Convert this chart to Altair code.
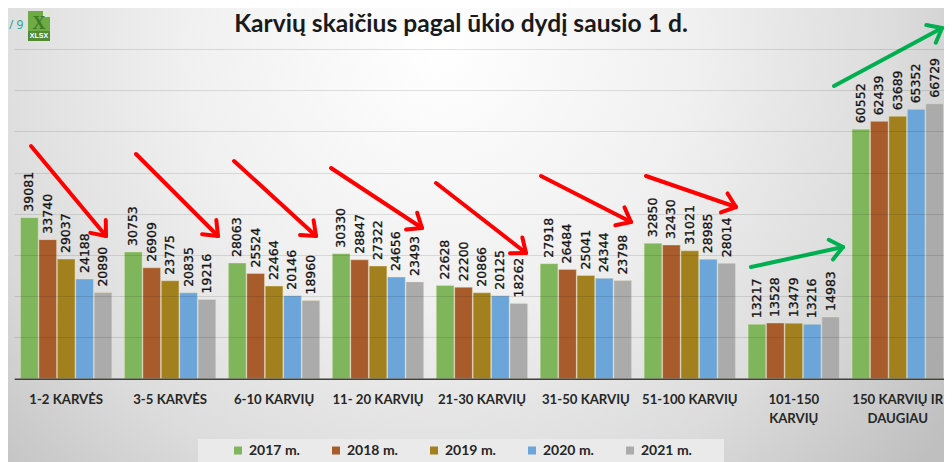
import math
import altair as alt
import pandas as pd

categories = ["1-2 KARVĖS", "3-5 KARVĖS", "6-10 KARVIŲ", "11- 20 KARVIŲ", "21-30 KARVIŲ",
              "31-50 KARVIŲ", "51-100 KARVIŲ", "101-150 KARVIŲ", "150 KARVIŲ IR DAUGIAU"]
years = ["2017 m.", "2018 m.", "2019 m.", "2020 m.", "2021 m."]
v2017 = [39081, 30753, 28063, 30330, 22628, 27918, 32850, 13217, 60552]
v2018 = [33740, 26909, 25524, 28847, 22200, 26484, 32430, 13528, 62439]
v2019 = [29037, 23775, 22464, 27322, 20866, 25041, 31021, 13479, 63689]
v2020 = [24188, 20835, 20146, 24656, 20125, 24344, 28985, 13216, 65352]
v2021 = [20890, 19216, 18960, 23493, 18262, 23798, 28014, 14983, 66729]
colors = ["#7FB55B", "#A95C2B", "#A2801E", "#6CA5D9", "#ABABAB"]
title = "Karvių skaičius pagal ūkio dydį sausio 1 d."

rows = []
for year, series in zip(years, [v2017, v2018, v2019, v2020, v2021]):
    for cat, val in zip(categories, series):
        rows.append({"cat": cat, "year": year, "val": val})
df = pd.DataFrame(rows)

W, H = 936, 454
OX, OY = 8, 8  # page margin, to convert reference pixels
BASE = 378.7 - OY
PLOT_H = BASE


def px(v):
    return alt.value(v - OX)


def py(v):
    return alt.value(v - OY)


bg = alt.Chart(pd.DataFrame({"a": [0]})).mark_rect(
    color=alt.RadialGradient(
        gradient="radial", x1=0.46, y1=0.3, r1=0.0, x2=0.46, y2=0.3, r2=0.68,
        stops=[alt.GradientStop(color="#ffffff", offset=0.0),
               alt.GradientStop(color="#f0f0f0", offset=0.4),
               alt.GradientStop(color="#dcdcdc", offset=0.72),
               alt.GradientStop(color="#bfbfbf", offset=1.0)])
).encode(x=alt.value(0), x2=alt.value(W), y=alt.value(0), y2=alt.value(H))

band = alt.Chart(pd.DataFrame({"a": [0]})).mark_rect(color="#eaeaea").encode(
    x=px(198), x2=px(724), y=py(439), y2=alt.value(H))

label_expr = ("datum.value == '101-150 KARVIŲ' ? ['101-150', 'KARVIŲ'] : "
              "datum.value == '150 KARVIŲ IR DAUGIAU' ? ['150 KARVIŲ IR', 'DAUGIAU'] : datum.value")

x_enc = alt.X("cat:N", sort=categories, title=None,
              scale=alt.Scale(domain=categories, range=[6.2, 941.7], round=False,
                              paddingInner=0.121, paddingOuter=0.0605),
              axis=alt.Axis(labelExpr=label_expr, labelAngle=0, labelFont="Lato", labelFontWeight="bold",
                            labelFontSize=13.2, labelColor="#262626", labelLimit=0, labelPadding=20.5,
                            labelLineHeight=19, ticks=False, domainColor="#404040", domainWidth=1.6,
                            zindex=1, labelBaseline="middle"))
y_enc = alt.Y("val:Q", title=None,
              scale=alt.Scale(domain=[0, 80000], range=[BASE, 49 - OY], nice=False),
              axis=alt.Axis(values=list(range(10000, 80001, 10000)), labels=False, ticks=False, domain=False,
                            grid=True, gridColor="#000000", gridOpacity=0.11, gridWidth=1.2, zindex=1))
off = alt.XOffset("year:N", sort=years, scale=alt.Scale(paddingInner=0.04))

bars = alt.Chart(df).mark_bar(stroke="#eee8c8", strokeWidth=0.4).encode(
    x=x_enc, y=y_enc, xOffset=off,
    color=alt.Color("year:N", sort=years, scale=alt.Scale(domain=years, range=colors),
                    legend=alt.Legend(title=None, orient="none", legendX=231 - OX, legendY=443.5 - OY,
                                      direction="horizontal", columns=5, symbolType="square", symbolSize=64,
                                      symbolStrokeWidth=0, labelFont="Lato", labelFontWeight="bold",
                                      labelFontSize=14, labelColor="#262626", labelOffset=4,
                                      columnPadding=29, padding=0)))

labels = alt.Chart(df).mark_text(angle=270, align="left", baseline="middle", dx=6, font="DejaVu Sans",
                                 fontSize=12.5, color="#111111", stroke="#111111", strokeWidth=0.3).encode(
    x=x_enc, y=y_enc, xOffset=off, text=alt.Text("val:Q", format="d"))

# ---- hand-drawn annotation arrows
red, green = "#FF0000", "#00B050"
arrows = [(31, 146, 106, 236, red), (136, 154, 218, 236, red), (234, 161, 316, 236, red),
          (331, 168, 422, 228, red), (436, 183, 526, 253, red), (541, 176, 631, 222, red),
          (646, 176, 736, 207, red), (751, 267, 843, 247, green), (834, 86, 942, 28, green)]


def seg(x1, y1, x2, y2, c):
    return alt.Chart().mark_rule(color=c, strokeWidth=4, strokeCap="round").encode(
        x=px(x1), y=py(y1), x2=px(x2), y2=py(y2))


arrow_layers = []
for x1, y1, x2, y2, c in arrows:
    arrow_layers.append(seg(x1, y1, x2, y2, c))
    ang = math.atan2(y1 - y2, x1 - x2)
    for d in (-0.68, 0.68):
        arrow_layers.append(seg(x2, y2, x2 + 16 * math.cos(ang + d), y2 + 16 * math.sin(ang + d), c))

# ---- small file icon in the corner
icon = alt.Chart().mark_rect(color="#6FAB45").encode(x=px(28), x2=px(50), y=py(11), y2=py(41))
icon_band = alt.Chart().mark_rect(color="#548A32").encode(x=px(28), x2=px(50), y=py(31), y2=py(41))
icon_fold = alt.Chart().mark_rect(color="#DCEBD0").encode(x=px(43), x2=px(50), y=py(11), y2=py(17))
icon_x = alt.Chart(pd.DataFrame({"t": ["X"]})).mark_text(
    font="Liberation Serif", fontWeight="bold", fontSize=18, color="#3F7A25").encode(
    x=px(39), y=py(24), text="t:N")
icon_t = alt.Chart(pd.DataFrame({"t": ["XLSX"]})).mark_text(
    font="Liberation Sans", fontWeight="bold", fontSize=7, color="#ffffff").encode(
    x=px(39), y=py(36), text="t:N")
page = alt.Chart(pd.DataFrame({"t": ["/ 9"]})).mark_text(
    font="Noto Sans", fontSize=12, color="#2BA58A", align="left").encode(
    x=px(9), y=py(25), text="t:N")

chart = alt.layer(bg, band, bars, labels, *arrow_layers, icon, icon_band, icon_fold, icon_x, icon_t, page).properties(
    width=W, height=PLOT_H, padding={"left": 0, "top": 0, "right": 0, "bottom": H - PLOT_H},
    autosize=alt.AutoSizeParams(type="none"),
    title=alt.TitleParams(title, font="Lato", fontWeight="bold", fontSize=24.6, color="#1a1a1a",
                          anchor="middle", dx=-15, dy=30, offset=0, frame="group")
).configure_view(stroke=None)

chart.save("out.html", embed_options={"renderer": "svg", "actions": False})
